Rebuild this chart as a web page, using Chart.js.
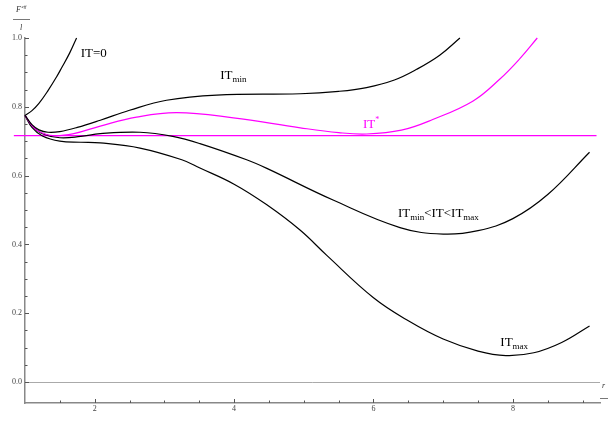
<!DOCTYPE html>
<html>
<head>
<meta charset="utf-8">
<script src="https://cdn.jsdelivr.net/npm/chart.js@4.4.0/dist/chart.umd.min.js"></script>
<style>
  html, body { margin: 0; padding: 0; background: #fff; }
  #wrap { width: 608px; height: 421px; }
</style>
</head>
<body>
<div id="wrap"><canvas id="chart" width="608" height="421"></canvas></div>
<script>
// values
const xIT0 = [1, 1.1, 1.2, 1.33, 1.45, 1.53, 1.64, 1.74];
const yIT0 = [0.775, 0.789, 0.81, 0.847, 0.886, 0.915, 0.956, 1.0];

const xITmin = [1, 1.1, 1.2, 1.33, 1.5, 1.75, 2.08, 2.5, 3.03, 3.75, 4.95, 5.5, 5.9, 6.3, 6.62, 6.95, 7.24];
const yITmin = [0.775, 0.748, 0.733, 0.726, 0.728, 0.74, 0.761, 0.79, 0.819, 0.834, 0.838, 0.845, 0.856, 0.878, 0.909, 0.95, 1.0];

const xITstar = [1, 1.1, 1.2, 1.4, 1.7, 2.08, 2.6, 3.18, 3.99, 4.95, 5.5, 5.9, 6.4, 6.85, 7.43, 7.81, 8.1, 8.35];
const yITstar = [0.775, 0.745, 0.728, 0.716, 0.722, 0.744, 0.77, 0.783, 0.768, 0.739, 0.725, 0.721, 0.732, 0.763, 0.817, 0.88, 0.94, 1.0];

const xITmid = [1, 1.1, 1.25, 1.5, 1.8, 2.08, 2.65, 3.12, 3.51, 4.18, 4.47, 5.42, 6.38, 7.0, 7.5, 8.0, 8.5, 9.1];
const yITmid = [0.775, 0.745, 0.722, 0.71, 0.714, 0.722, 0.726, 0.714, 0.693, 0.646, 0.621, 0.529, 0.449, 0.43, 0.44, 0.475, 0.545, 0.668];

const xITmax = [1, 1.1, 1.25, 1.5, 1.8, 2.08, 2.65, 3.25, 3.51, 4.0, 4.47, 4.95, 5.33, 6.0, 6.5, 7.0, 7.5, 7.9, 8.3, 8.7, 9.1];
const yITmax = [0.775, 0.74, 0.715, 0.7, 0.697, 0.695, 0.68, 0.646, 0.622, 0.575, 0.515, 0.441, 0.368, 0.245, 0.178, 0.125, 0.09, 0.077, 0.085, 0.115, 0.163];

const xLevel = [0.84, 9.2];
const yLevel = [0.716, 0.716];

const xTickLabels = [2, 4, 6, 8];
const yTickLabels = [0, 0.2, 0.4, 0.6, 0.8, 1.0];

const pts = (xs, ys) => xs.map((x, i) => ({ x: x, y: ys[i] }));

const line = (data, color) => ({
    data: data,
    borderColor: color,
    borderWidth: 1.2,
    pointRadius: 0,
    fill: false,
    tension: 0.4,
    clip: false,
});

const serif = "'Liberation Serif', 'DejaVu Serif', serif";

// inward tick marks, curve labels and the axis title
const decor = {
    id: "decor",
    afterDraw(chart) {
        const c = chart.ctx;
        const xs = chart.scales.x;
        const ys = chart.scales.y;
        const bottom = chart.chartArea.bottom;
        const left = chart.chartArea.left;
        c.save();
        c.strokeStyle = "#555";
        c.lineWidth = 1;
        for (let v = 1.5; v <= 9.01; v += 0.5) {
            const px = Math.round(xs.getPixelForValue(v)) + 0.5;
            const len = xTickLabels.includes(v) ? 4 : 2.5;
            c.beginPath();
            c.moveTo(px, bottom);
            c.lineTo(px, bottom - len);
            c.stroke();
        }
        for (let k = 0; k <= 20; k++) {
            const v = k * 0.05;
            const py = Math.round(ys.getPixelForValue(v)) + 0.5;
            const len = k % 4 === 0 ? 4 : 2.5;
            c.beginPath();
            c.moveTo(left, py);
            c.lineTo(left + len, py);
            c.stroke();
        }

        const label = (x, y, parts, color) => {
            let px = xs.getPixelForValue(x);
            const py = ys.getPixelForValue(y);
            c.fillStyle = color;
            c.textBaseline = "alphabetic";
            c.textAlign = "left";
            parts.forEach((p) => {
                const size = p.sub ? 9 : p.sup ? 8 : 13;
                c.font = size + "px " + serif;
                const dy = p.sub ? 3 : p.sup ? -6 : 0;
                c.fillText(p.t, px, py + dy);
                px += c.measureText(p.t).width;
            });
        };
        label(1.8, 0.945, [{ t: "IT=0" }], "#000");
        label(3.8, 0.88, [{ t: "IT" }, { t: "min", sub: true }], "#000");
        label(5.85, 0.737, [{ t: "IT" }, { t: "*", sup: true }], "#ff00ff");
        label(6.35, 0.48, [{ t: "IT" }, { t: "min", sub: true }, { t: "<IT<IT" }, { t: "max", sub: true }], "#000");
        label(7.82, 0.104, [{ t: "IT" }, { t: "max", sub: true }], "#000");

        // axis titles
        c.fillStyle = "#333";
        c.font = "italic 8px " + serif;
        c.fillText("F", 16, 12);
        c.font = "italic 5px " + serif;
        c.fillText("eff", 21.5, 8);
        c.strokeStyle = "#555";
        c.lineWidth = 0.8;
        c.beginPath();
        c.moveTo(13, 19.5);
        c.lineTo(30, 19.5);
        c.stroke();
        c.font = "italic 8px " + serif;
        c.fillText("l", 20, 30);
        c.fillText("r", 602, 388);
        c.beginPath();
        c.moveTo(600, 398.5);
        c.lineTo(608, 398.5);
        c.stroke();
        c.restore();
    },
};

new Chart(document.getElementById("chart").getContext("2d"), {
    type: "line",
    data: {
        datasets: [
            line(pts(xIT0, yIT0), "#000"),
            line(pts(xITmin, yITmin), "#000"),
            line(pts(xITstar, yITstar), "#ff00ff"),
            line(pts(xITmid, yITmid), "#000"),
            line(pts(xITmax, yITmax), "#000"),
            line(pts(xLevel, yLevel), "#ff00ff"),
        ],
    },
    options: {
        responsive: false,
        animation: false,
        layout: { padding: { top: 38, right: 8, left: 0, bottom: 0 } },
        plugins: { legend: { display: false }, tooltip: { enabled: false } },
        scales: {
            x: {
                type: "linear",
                min: 1,
                max: 9.25,
                border: { color: "#888", width: 1.5 },
                grid: { display: false, drawTicks: false },
                afterBuildTicks: (s) => { s.ticks = xTickLabels.map((v) => ({ value: v })); },
                ticks: {
                    font: { family: serif, size: 8 },
                    color: "#444",
                    padding: 1,
                    maxRotation: 0,
                    callback: (v) => String(v),
                },
                afterFit: (s) => { s.height = 18; },
            },
            y: {
                min: -0.061,
                max: 1.0,
                border: { color: "#888", width: 1.5 },
                grid: {
                    drawTicks: false,
                    color: (ctx) => (ctx.tick && ctx.tick.value === 0 ? "#aaa" : "rgba(0,0,0,0)"),
                    lineWidth: 1,
                },
                afterBuildTicks: (s) => { s.ticks = yTickLabels.map((v) => ({ value: v })); },
                ticks: {
                    font: { family: serif, size: 8 },
                    color: "#444",
                    padding: 3,
                    callback: (v) => Number(v).toFixed(1),
                },
                afterFit: (s) => { s.width = 25; },
            },
        },
    },
    plugins: [decor],
});
</script>
</body>
</html>
